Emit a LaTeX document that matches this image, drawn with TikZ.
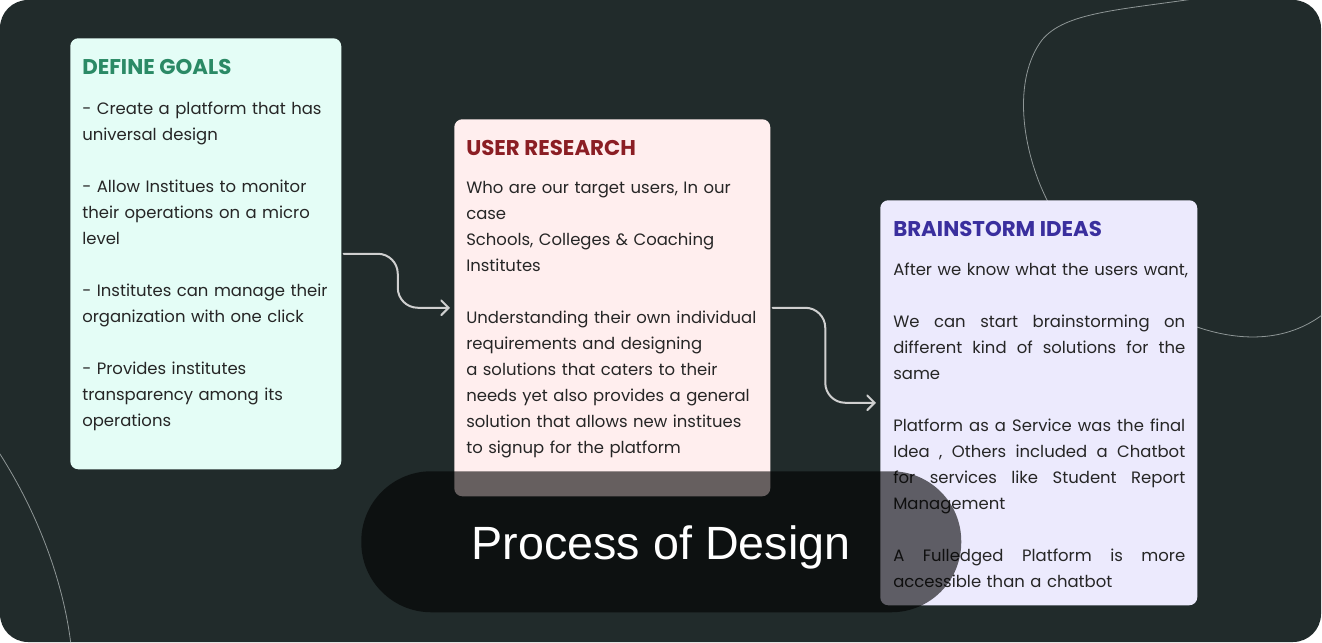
\documentclass[tikz,border=0pt]{standalone}
\usepackage{fontspec}
\setmainfont{Poppins}
\newfontfamily\titlefont{Liberation Sans}
\usetikzlibrary{arrows.meta,calc}
\definecolor{bg}{HTML}{212B2B}
\definecolor{dgfill}{HTML}{E4FDF6}
\definecolor{dgtitle}{HTML}{2B8A66}
\definecolor{urfill}{HTML}{FFEEEE}
\definecolor{urtitle}{HTML}{8B1E24}
\definecolor{bifill}{HTML}{ECEAFD}
\definecolor{bititle}{HTML}{3A2F9E}
\definecolor{bodytext}{HTML}{262626}
\definecolor{arrowcol}{HTML}{CFCFCF}
\definecolor{deco}{HTML}{8E9696}
\tikzset{
  card/.style={anchor=north west, inner sep=0pt, rounded corners=6pt, draw=none},
  cardtitle/.style={anchor=base west, inner sep=0pt, font=\fontsize{16}{19}\selectfont\bfseries},
  body/.style={anchor=north west, inner sep=0pt, text width=#1, align=left,
    font=\fontsize{12.35}{19.5}\selectfont, text=bodytext},
  conn/.style={draw=arrowcol, line width=1.5pt, rounded corners=15pt, line cap=round,
    -{Straight Barb[length=5.5pt,width=11pt,line cap=round]}, shorten >=3pt, shorten <=1.5pt},
  decoline/.style={draw=deco, line width=0.6pt},
  pill/.style={fill=black, fill opacity=0.6, rounded corners=52.5pt, inner sep=0pt}
}
\newcommand{\jl}[1]{\leavevmode\hbox to 219pt{#1}}
\begin{document}
\begin{tikzpicture}[x=0.75pt,y=-0.75pt]
\useasboundingbox (0,0) rectangle (1322,643);
\fill[white] (0,0) rectangle (1322,643);
\fill[bg, rounded corners=21pt] (0,0) rectangle (1321,642);
% decorative lines
\begin{scope}
\clip[rounded corners=21pt] (0,0) rectangle (1321,642);
\draw[decoline] (1200,-2) .. controls (1120,10) and (1065,12) .. (1042,40)
  .. controls (1012,80) and (1022,150) .. (1047,200)
  .. controls (1080,280) and (1150,312) .. (1197,327)
  .. controls (1235,340) and (1285,345) .. (1326,312);
\draw[decoline] (-2,451) .. controls (30,500) and (62,570) .. (71,645);
\end{scope}
% cards
\node[card, fill=dgfill, minimum width=203.25pt, minimum height=323.25pt] (dg) at (70,38) {};
\node[card, fill=urfill, minimum width=237pt, minimum height=282.75pt] (ur) at (454,119) {};
\node[card, fill=bifill, minimum width=237.75pt, minimum height=303.75pt] (bi) at (880,200) {};
% titles
\node[cardtitle, text=dgtitle] (dgt) at (82,74) {DEFINE GOALS};
\node[cardtitle, text=urtitle] (urt) at (466,155) {USER RESEARCH};
\node[cardtitle, text=bititle] (bit) at (893,236) {BRAINSTORM IDEAS};
% bodies
\node[body=205pt] (dgb) at (82,101.2) {- Create a platform that has\\
universal design\\[19.5pt]
- Allow Institues to monitor\\
their operations on a micro\\
level\\[19.5pt]
- Institutes can manage their\\
organization with one click\\[19.5pt]
- Provides institutes\\
transparency among its\\
operations};
\node[body=235pt] (urb) at (466,181.2) {Who are our target users, In our\\
case\\
Schools, Colleges \& Coaching\\
Institutes\\[19.5pt]
Understanding their own individual\\
requirements and designing\\
a solutions that caters to their\\
needs yet also provides a general\\
solution that allows new institues\\
to signup for the platform};
\node[body=240pt] (bib) at (893,262.2) {After we know what the users want,\\[19.5pt]
\jl{We\hfill can\hfill start\hfill brainstorming\hfill on}\\
\jl{different\hfill kind\hfill of\hfill solutions\hfill for\hfill the}\\
same\\[19.5pt]
\jl{Platform\hfill as\hfill a\hfill Service\hfill was\hfill the\hfill final}\\
\jl{Idea\hfill ,\hfill Others\hfill included\hfill a\hfill Chatbot}\\
\jl{for\hfill services\hfill like\hfill Student\hfill Report}\\
Management\\[19.5pt]
\jl{A\hfill Fulledged\hfill Platform\hfill is\hfill more}\\
accessible than a chatbot};
% connectors
\coordinate (m1) at ($(dg.east)!0.5!(ur.west)$);
\coordinate (m2) at ($(ur.east)!0.5!(bi.west)$);
\draw[conn] (dg.east) -| (m1 |- ur.west) -- (ur.west);
\draw[conn] (ur.east) -| (m2 |- bi.west) -- (bi.west);
% pill
\node[pill, anchor=north west, minimum width=450pt, minimum height=105.75pt] (pill) at (361,471) {};
\node[anchor=base, inner sep=0pt, text=white, font=\titlefont\fontsize{35}{40}\selectfont] (ptitle) at (661,559) {Process of Design};
\end{tikzpicture}
\end{document}
